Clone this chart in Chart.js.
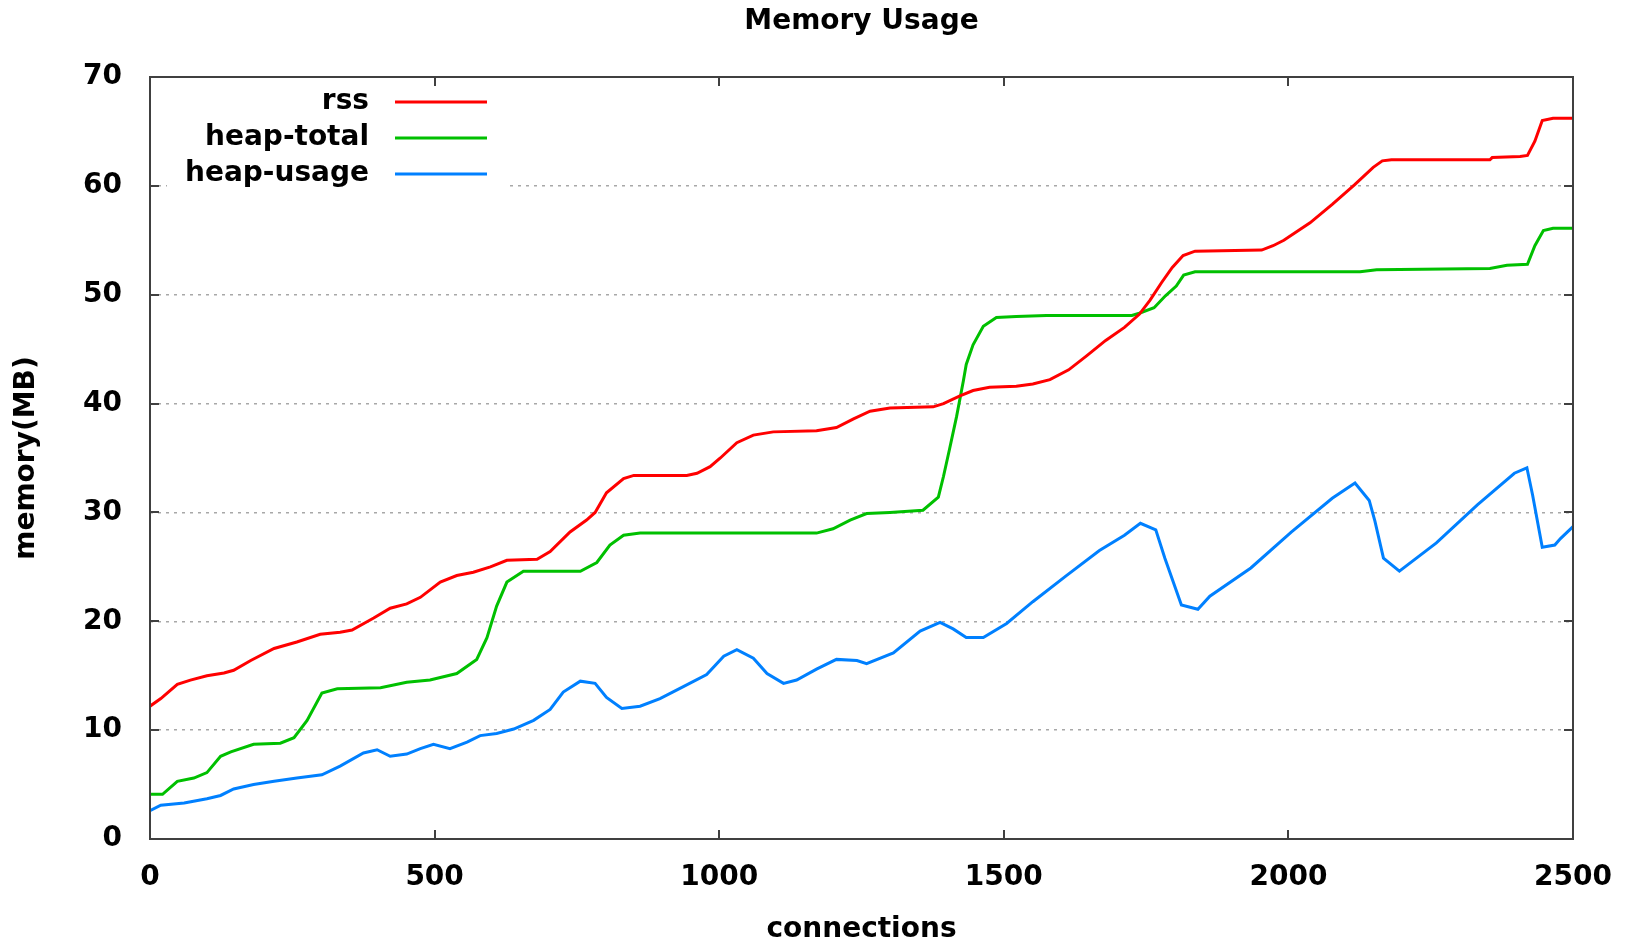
<!DOCTYPE html>
<html lang="en">
<head>
    <meta charset="UTF-8">
    <title>Memory Usage</title>
    <style>
        html, body { margin: 0; padding: 0; background: #ffffff; }
        #wrap { width: 1633px; height: 944px; }
    </style>
</head>
<body>
    <div id="wrap"><canvas id="mem-chart"></canvas></div>

    <script src="https://cdn.jsdelivr.net/npm/chart.js@4"></script>
    <script>
        // Values (connections -> MB)
        const rssConn = [0, 19, 48, 71, 100, 130, 147, 177, 218, 258, 299, 334, 355, 393, 422, 451, 475, 510, 539, 568, 598, 627, 680, 703, 738, 767, 782, 802, 832, 850, 943, 961, 984, 1002, 1031, 1060, 1095, 1171, 1206, 1236, 1265, 1300, 1376, 1394, 1423, 1446, 1475, 1522, 1551, 1581, 1614, 1646, 1679, 1712, 1738, 1757, 1777, 1796, 1815, 1836, 1953, 1973, 1992, 2038, 2077, 2116, 2149, 2165, 2181, 2354, 2358, 2407, 2420, 2433, 2446, 2465, 2500];
        const rssMB = [12.2, 12.9, 14.2, 14.6, 15.0, 15.25, 15.5, 16.4, 17.5, 18.1, 18.8, 19.0, 19.2, 20.3, 21.2, 21.6, 22.2, 23.6, 24.2, 24.5, 25.0, 25.6, 25.7, 26.4, 28.2, 29.3, 30.0, 31.8, 33.1, 33.4, 33.4, 33.6, 34.2, 35.0, 36.4, 37.1, 37.4, 37.5, 37.8, 38.6, 39.3, 39.6, 39.7, 40.0, 40.7, 41.2, 41.5, 41.6, 41.8, 42.2, 43.1, 44.4, 45.8, 47.0, 48.2, 49.5, 51.1, 52.5, 53.6, 54.0, 54.1, 54.5, 55.0, 56.6, 58.3, 60.1, 61.7, 62.3, 62.4, 62.4, 62.6, 62.7, 62.8, 64.1, 66.0, 66.2, 66.2];

        const totalConn = [0, 22, 48, 77, 100, 124, 142, 182, 229, 253, 276, 302, 329, 405, 451, 492, 539, 574, 592, 609, 627, 656, 756, 785, 808, 832, 861, 1171, 1200, 1230, 1259, 1300, 1358, 1385, 1394, 1405, 1417, 1429, 1434, 1446, 1464, 1487, 1522, 1575, 1725, 1738, 1764, 1784, 1803, 1816, 1836, 2126, 2155, 2354, 2384, 2420, 2433, 2448, 2465, 2500];
        const totalMB = [4.1, 4.1, 5.3, 5.6, 6.1, 7.6, 8.0, 8.7, 8.8, 9.3, 10.9, 13.4, 13.8, 13.9, 14.4, 14.6, 15.2, 16.5, 18.5, 21.4, 23.6, 24.6, 24.6, 25.4, 27.0, 27.9, 28.1, 28.1, 28.5, 29.3, 29.9, 30.0, 30.2, 31.4, 33.3, 35.9, 38.8, 42.1, 43.6, 45.4, 47.1, 47.9, 48.0, 48.1, 48.1, 48.3, 48.8, 49.9, 50.8, 51.8, 52.1, 52.1, 52.3, 52.4, 52.7, 52.8, 54.5, 55.9, 56.1, 56.1];

        const usageConn = [0, 19, 60, 100, 124, 147, 182, 218, 258, 302, 334, 375, 399, 422, 451, 475, 498, 527, 557, 580, 609, 639, 674, 703, 726, 756, 782, 802, 829, 861, 896, 937, 978, 1008, 1031, 1060, 1084, 1113, 1136, 1171, 1206, 1242, 1259, 1306, 1353, 1388, 1411, 1434, 1464, 1505, 1551, 1610, 1668, 1712, 1740, 1767, 1783, 1812, 1841, 1862, 1934, 2005, 2077, 2117, 2142, 2152, 2167, 2195, 2260, 2332, 2397, 2419, 2429, 2446, 2468, 2478, 2500];
        const usageMB = [2.6, 3.1, 3.3, 3.7, 4.0, 4.6, 5.0, 5.3, 5.6, 5.9, 6.7, 7.9, 8.2, 7.6, 7.8, 8.3, 8.7, 8.3, 8.9, 9.5, 9.7, 10.1, 10.9, 11.9, 13.5, 14.5, 14.3, 13.0, 12.0, 12.2, 12.9, 14.0, 15.1, 16.8, 17.4, 16.6, 15.2, 14.3, 14.6, 15.6, 16.5, 16.4, 16.1, 17.1, 19.1, 19.9, 19.3, 18.5, 18.5, 19.8, 21.8, 24.2, 26.5, 27.9, 29.0, 28.4, 25.8, 21.5, 21.1, 22.3, 24.9, 28.2, 31.3, 32.7, 31.1, 29.2, 25.8, 24.6, 27.2, 30.7, 33.6, 34.1, 31.6, 26.8, 27.0, 27.6, 28.7];

        const seriesLabels = ['rss', 'heap-total', 'heap-usage'];
        const seriesColors = ['#ff0000', '#00c000', '#0080ff'];

        const boldFont = { family: '"DejaVu Sans", sans-serif', size: 28, weight: 'bold' };

        function toPoints(xs, ys) {
            return xs.map((x, i) => ({ x: x, y: ys[i] }));
        }

        // gnuplot style: frame, inward ticks, key in the top left corner
        const gnuplotFrame = {
            id: 'gnuplotFrame',
            afterDatasetsDraw(chart) {
                const { ctx, chartArea: a, scales: { x, y } } = chart;
                ctx.save();

                // key background hides the grid behind it
                ctx.fillStyle = '#ffffff';
                ctx.fillRect(a.left + 17, a.top + 6, 340, 110);

                ctx.strokeStyle = '#404040';
                ctx.lineWidth = 2;
                ctx.strokeRect(a.left, a.top, a.right - a.left, a.bottom - a.top);

                ctx.beginPath();
                x.ticks.forEach(t => {
                    const px = Math.round(x.getPixelForValue(t.value));
                    ctx.moveTo(px, a.bottom); ctx.lineTo(px, a.bottom - 9);
                    ctx.moveTo(px, a.top); ctx.lineTo(px, a.top + 9);
                });
                y.ticks.forEach(t => {
                    const py = Math.round(y.getPixelForValue(t.value));
                    ctx.moveTo(a.left, py); ctx.lineTo(a.left + 9, py);
                    ctx.moveTo(a.right, py); ctx.lineTo(a.right - 9, py);
                });
                ctx.stroke();

                // key
                ctx.font = 'bold 28px "DejaVu Sans", sans-serif';
                ctx.textAlign = 'right';
                ctx.textBaseline = 'middle';
                chart.data.datasets.forEach((ds, i) => {
                    const rowY = a.top + 25 + i * 36;
                    ctx.fillStyle = '#000000';
                    ctx.fillText(ds.label, a.left + 219, rowY);
                    ctx.strokeStyle = ds.borderColor;
                    ctx.lineWidth = 3;
                    ctx.beginPath();
                    ctx.moveTo(a.left + 245, rowY);
                    ctx.lineTo(a.left + 337, rowY);
                    ctx.stroke();
                });
                ctx.restore();
            }
        };

        const datasets = [
            toPoints(rssConn, rssMB),
            toPoints(totalConn, totalMB),
            toPoints(usageConn, usageMB)
        ].map((pts, i) => ({
            label: seriesLabels[i],
            data: pts,
            borderColor: seriesColors[i],
            backgroundColor: seriesColors[i],
            borderWidth: 3,
            pointRadius: 0,
            tension: 0,
            fill: false
        }));

        new Chart(document.getElementById('mem-chart'), {
            type: 'line',
            data: { datasets: datasets },
            options: {
                responsive: true,
                maintainAspectRatio: false,
                animation: false,
                layout: { padding: { left: 0, right: 60, top: 0, bottom: 0 } },
                scales: {
                    x: {
                        type: 'linear',
                        min: 0,
                        max: 2500,
                        afterFit: s => { s.height = 105; },
                        grid: { display: false },
                        border: { display: false },
                        ticks: {
                            stepSize: 500,
                            padding: 14,
                            color: '#000000',
                            maxRotation: 0,
                            font: boldFont,
                            callback: v => String(v)
                        },
                        title: {
                            display: true,
                            text: 'connections',
                            color: '#000000',
                            padding: 0,
                            font: { family: '"DejaVu Sans", sans-serif', size: 28, weight: 'bold', lineHeight: 1 }
                        }
                    },
                    y: {
                        min: 0,
                        max: 70,
                        afterFit: s => { s.width = 150; },
                        grid: { color: '#a8a8a8', lineWidth: 1.5, drawTicks: false },
                        border: { display: false, dash: [3, 5] },
                        ticks: {
                            stepSize: 10,
                            padding: 28,
                            color: '#000000',
                            font: boldFont
                        },
                        title: {
                            display: true,
                            text: 'memory(MB)',
                            color: '#000000',
                            padding: { top: 10, bottom: 0 },
                            font: boldFont
                        }
                    }
                },
                plugins: {
                    legend: { display: false },
                    tooltip: { enabled: false },
                    title: {
                        display: true,
                        fullSize: false,
                        text: 'Memory Usage',
                        color: '#000000',
                        padding: { top: 5, bottom: 38.4 },
                        font: boldFont
                    }
                }
            },
            plugins: [gnuplotFrame]
        });
    </script>
</body>
</html>
